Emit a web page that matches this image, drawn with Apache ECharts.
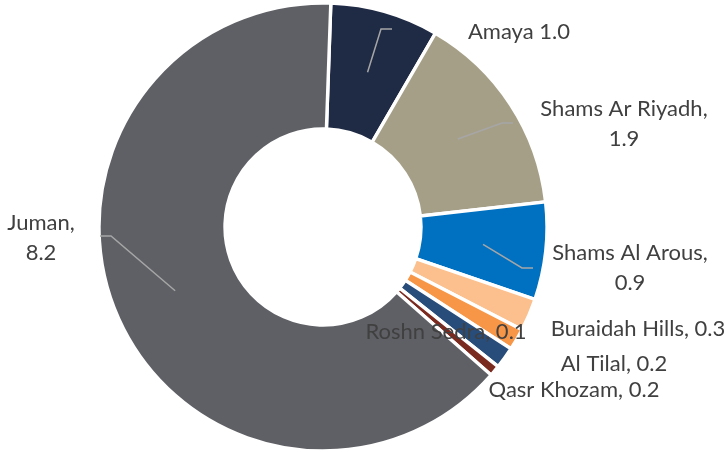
<!DOCTYPE html>
<html>
<head>
<meta charset="utf-8">
<script src="https://cdn.jsdelivr.net/npm/echarts@6/dist/echarts.min.js"></script>
<style>
html,body{margin:0;padding:0;background:#fff;}
#chart{width:726px;height:452px;}
</style>
</head>
<body>
<div id="chart"></div>
<script>
// ---- data ----
var categories = ['Amaya', 'Shams Ar Riyadh', 'Shams Al Arous', 'Buraidah Hills', 'Al Tilal', 'Qasr Khozam', 'Roshn Sedra', 'Juman'];
var values = [1.0, 1.9, 0.9, 0.3, 0.2, 0.2, 0.1, 8.2];
var labelSeparators = [' ', ',\n', ',\n', ', ', ', ', ', ', ', ', ',\n'];
var colors = ['#1f2a44', '#a69f88', '#0070c0', '#fbc08d', '#f79646', '#284d7b', '#7b2a1f', '#5f6065'];

// ---- layout (label placement, not data) ----
var CX = 323, CY = 227;
var labelCenters = [[519, 32], [624, 124], [630, 268], [638, 329], [614, 364], [574, 390], [446, 332], [41, 238]];
var lineEnds = [[392, 29], [513, 123], [533, 268], null, null, null, null, [100, 236]];

var chart = echarts.init(document.getElementById('chart'), null, {renderer: 'canvas'});

var pieData = categories.map(function (c, i) {
  return {name: c, value: values[i], itemStyle: {color: colors[i]}};
});

chart.setOption({
  animation: false,
  series: [{
    type: 'pie',
    center: [CX, CY],
    radius: [98, 224],
    startAngle: 88,
    clockwise: true,
    silent: true,
    avoidLabelOverlap: false,
    itemStyle: {borderColor: '#ffffff', borderWidth: 3.4, borderJoin: 'miter'},
    label: {
      show: true,
      position: 'outside',
      fontFamily: 'Lato',
      fontSize: 22,
      lineHeight: 30,
      color: '#404040',
      align: 'center',
      formatter: function (p) {
        return p.name + labelSeparators[p.dataIndex] + p.value.toFixed(1);
      }
    },
    labelLine: {show: false},
    labelLayout: function (params) {
      var c = labelCenters[params.dataIndex];
      return {x: c[0], y: c[1], align: 'center', verticalAlign: 'middle'};
    },
    data: pieData
  }]
});

// leader lines: from the middle of the ring at each slice's mid-angle to the label
var data = chart.getModel().getSeriesByIndex(0).getData();
var lineGraphics = [];
lineEnds.forEach(function (e, i) {
  if (!e) return;
  var L = data.getItemLayout(i);
  var mid = (L.startAngle + L.endAngle) / 2;
  var R = (L.r + L.r0) / 2;
  var a = [L.cx + R * Math.cos(mid), L.cy + R * Math.sin(mid)];
  var dir = a[0] < e[0] ? -11 : 11;
  lineGraphics.push({
    type: 'polyline',
    silent: true,
    z: 10,
    shape: {points: [a, [e[0] + dir, e[1]], e]},
    style: {stroke: '#a6a6a6', lineWidth: 1.5, fill: null}
  });
});
chart.setOption({graphic: lineGraphics});
</script>
</body>
</html>
